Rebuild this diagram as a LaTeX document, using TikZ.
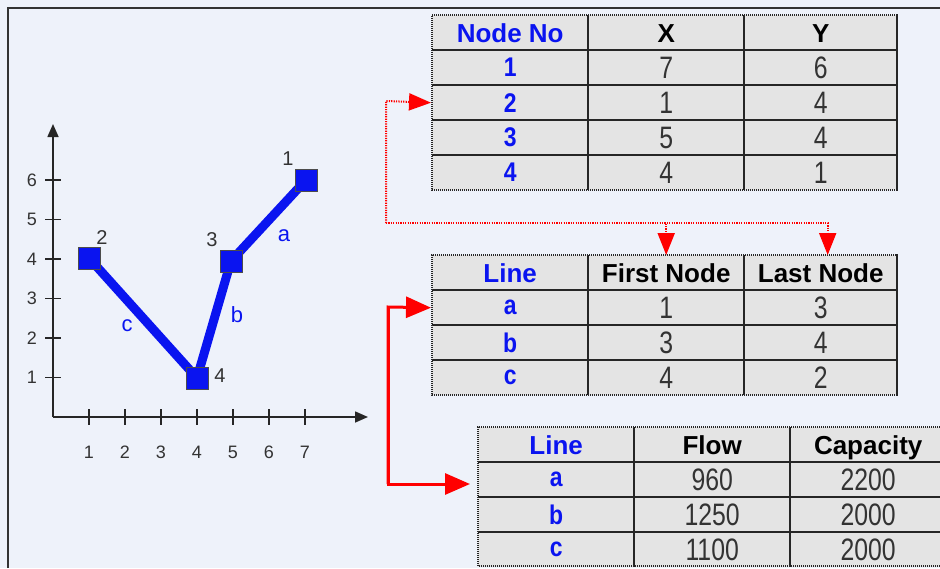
\documentclass[tikz,border=0pt]{standalone}
\usepackage{fontspec}
\setmainfont{Liberation Sans}
\usetikzlibrary{arrows.meta,calc}
\definecolor{bgc}{HTML}{EEF2FA}
\definecolor{cellc}{HTML}{E4E4E4}
\definecolor{datac}{HTML}{333333}
\definecolor{bluec}{HTML}{0A14F0}
\definecolor{redc}{HTML}{FF0000}
\newcommand{\hstrut}{\rule[-3.4pt]{0pt}{25.4pt}}
\newcommand{\hdr}[1]{\fontsize{26}{28}\selectfont\bfseries\hstrut\smash{#1}}
\newcommand{\hdrb}[1]{\fontsize{26}{28}\selectfont\bfseries\color{bluec}\hstrut\smash{#1}}
\newcommand{\dat}[1]{\scalebox{0.8}[1]{\fontsize{31}{32}\selectfont\color{datac}#1}}
\newcommand{\fst}[1]{\scalebox{0.85}[1]{\fontsize{27}{28}\selectfont\bfseries\color{bluec}#1}}
\tikzset{
  cell/.style={rectangle, fill=cellc, inner sep=0pt, anchor=north west},
  tline/.style={draw=black!85, line width=2pt},
  tframe/.style={draw=black!85, line width=2.2pt, dash pattern=on 1pt off 1pt},
  redsolid/.style={draw=redc, line width=3pt, -{Triangle[length=25pt,width=21pt]}},
  reddot/.style={draw=redc, line width=2pt, dash pattern=on 1.2pt off 1.2pt, -{Triangle[length=22pt,width=17pt]}},
  chartlbl/.style={font=\fontsize{18}{19}\selectfont, text=black!80, inner sep=0pt},
  nodelbl/.style={font=\fontsize{20}{21}\selectfont, text=black!80, inner sep=0pt},
  linelbl/.style={font=\fontsize{22}{23}\selectfont, text=bluec, inner sep=0pt},
  pt/.style={rectangle, fill=bluec, draw=black!70, line width=1pt, minimum size=22pt, inner sep=0pt},
  seg/.style={draw=bluec, line width=9pt},
  axis/.style={draw=black!85, line width=1.6pt, -{Triangle[length=13pt,width=11pt]}},
  tick/.style={draw=black!85, line width=1.6pt}
}
\begin{document}
\begin{tikzpicture}[x=1pt,y=-1pt]
\useasboundingbox (0,0) rectangle (940,568);
\fill[bgc] (0,0) rectangle (940,568);
\draw[black!80, line width=2.2pt] (8,568) -- (8,8) -- (940,8);

% ---------- Table 1 ----------
\foreach \r/\a/\b/\c in {0/{\hdrb{Node No}}/{\hdr{X}}/{\hdr{Y}},1/{\fst{1}}/{\dat{7}}/{\dat{6}},2/{\fst{2}}/{\dat{1}}/{\dat{4}},3/{\fst{3}}/{\dat{5}}/{\dat{4}},4/{\fst{4}}/{\dat{4}}/{\dat{1}}}{
  \node[cell, minimum width=156pt, minimum height=35pt] (ta-\r-0) at (432,15+35*\r) {\a};
  \node[cell, minimum width=156pt, minimum height=35pt] (ta-\r-1) at (588,15+35*\r) {\b};
  \node[cell, minimum width=153pt, minimum height=35pt] (ta-\r-2) at (744,15+35*\r) {\c};
}
\foreach \y in {50,85,120,155} \draw[tline] (432,\y) -- (897,\y);
\draw[tline] (588,15) -- (588,190);
\draw[tline] (744,15) -- (744,190);
\draw[tframe] (897,190) -- (432,190) -- (432,15) -- (897,15);
\draw[tline] (897,14) -- (897,191);

% ---------- Table 2 ----------
\foreach \r/\a/\b/\c in {0/{\hdrb{Line}}/{\hdr{First Node}}/{\hdr{Last Node}},1/{\fst{a}}/{\dat{1}}/{\dat{3}},2/{\fst{b}}/{\dat{3}}/{\dat{4}},3/{\fst{c}}/{\dat{4}}/{\dat{2}}}{
  \node[cell, minimum width=156pt, minimum height=35pt] (tb-\r-0) at (432,255+35*\r) {\a};
  \node[cell, minimum width=156pt, minimum height=35pt] (tb-\r-1) at (588,255+35*\r) {\b};
  \node[cell, minimum width=153pt, minimum height=35pt] (tb-\r-2) at (744,255+35*\r) {\c};
}
\foreach \y in {290,325,360} \draw[tline] (432,\y) -- (897,\y);
\draw[tline] (588,255) -- (588,395);
\draw[tline] (744,255) -- (744,395);
\draw[tframe] (897,395) -- (432,395) -- (432,255) -- (897,255);
\draw[tline] (897,254) -- (897,396);

% ---------- Table 3 ----------
\foreach \r/\a/\b/\c in {0/{\hdrb{Line}}/{\hdr{Flow}}/{\hdr{Capacity}},1/{\fst{a}}/{\dat{960}}/{\dat{2200}},2/{\fst{b}}/{\dat{1250}}/{\dat{2000}},3/{\fst{c}}/{\dat{1100}}/{\dat{2000}}}{
  \node[cell, minimum width=156pt, minimum height=35pt] (tc-\r-0) at (478,427+35*\r) {\a};
  \node[cell, minimum width=156pt, minimum height=35pt] (tc-\r-1) at (634,427+35*\r) {\b};
  \node[cell, minimum width=156pt, minimum height=35pt] (tc-\r-2) at (790,427+35*\r) {\c};
}
\foreach \y in {462,497,532} \draw[tline] (478,\y) -- (946,\y);
\draw[tline] (634,427) -- (634,567);
\draw[tline] (790,427) -- (790,567);
\draw[tframe] (946,566) -- (478,566) -- (478,427) -- (946,427);

% ---------- Red connectors ----------
\coordinate (jd) at (386,223);
\coordinate (ja) at (386,101);
\draw[reddot] (jd) -- (ja) -- ([xshift=-1pt]ta-2-0.west);
\draw[reddot] (jd) -| (tb-0-1.north);
\draw[reddot] (jd) -| ([xshift=7pt]tb-0-2.north);

\coordinate (ka) at (388,307);
\coordinate (kb) at (388,484);
\coordinate (kc) at (470,484);
\draw[redsolid] (kb) -- (ka) -- ([xshift=-1pt]tb-1-0.west);
\draw[redsolid] (ka) -- (kb) -- (kc);

% ---------- Chart ----------
\coordinate (O) at (53,417);
\coordinate (Ytop) at (53,124);
\coordinate (Xend) at (368,417);
\draw[axis] (O) -- (Ytop);
\draw[axis] (O) -- (Xend);
\foreach \i in {1,...,7} {
  \draw[tick] (53+36*\i,409) -- (53+36*\i,425);
  \node[chartlbl] (xl\i) at (53+36*\i,452) {\i};
}
\foreach \j in {1,...,6} {
  \draw[tick] (45,417-39.5*\j) -- (61,417-39.5*\j);
  \node[chartlbl] (yl\j) at (32,417-39.5*\j) {\j};
}
\coordinate (p1) at (306,180);
\coordinate (p2) at (89,258);
\coordinate (p3) at (231,261);
\coordinate (p4) at (197,378);
\draw[seg] (p2) -- (p4) -- (p3) -- (p1);
\node[pt] (n1) at (p1) {};
\node[pt] (n2) at (p2) {};
\node[pt] (n3) at (p3) {};
\node[pt] (n4) at (p4) {};
\node[nodelbl] (l1) at (288,159) {1};
\node[nodelbl] (l2) at (102,238) {2};
\node[nodelbl] (l3) at (212,240) {3};
\node[nodelbl] (l4) at (220,376) {4};
\node[linelbl] (la) at (284,236) {a};
\node[linelbl] (lb) at (237,315) {b};
\node[linelbl] (lc) at (127,326) {c};
\end{tikzpicture}
\end{document}
